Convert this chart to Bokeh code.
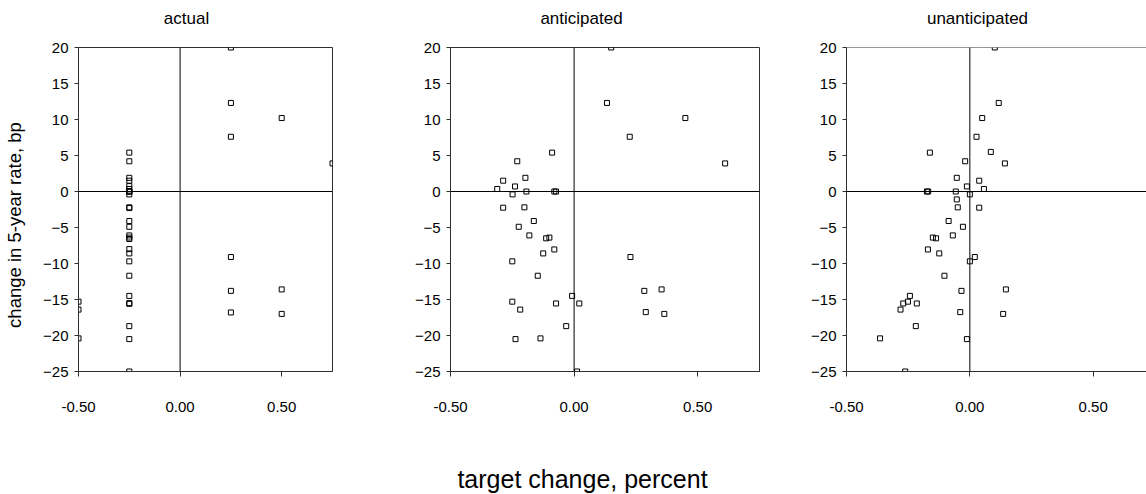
import math
from bokeh.plotting import figure
from bokeh.layouts import row, column
from bokeh.models import Range1d, FixedTicker, NumeralTickFormatter, Span, Label
from bokeh.embed import file_html
from bokeh.resources import INLINE

FONT = "Liberation Sans"

panel_titles = ["actual", "anticipated", "unanticipated"]
x_ticks = [-0.5, 0.0, 0.5]
y_ticks = [-25, -20, -15, -10, -5, 0, 5, 10, 15, 20]
y_label = "change in 5-year rate, bp"
x_label = "target change, percent"

actual_x = [0.25, 0.25, 0.25, 0.25, 0.25, 0.25,
            0.5, 0.5, 0.5,
            0.75,
            -0.5, -0.5, -0.5,
            -0.25, -0.25, -0.25, -0.25, -0.25, -0.25, -0.25, -0.25, -0.25,
            -0.25, -0.25, -0.25, -0.25, -0.25, -0.25, -0.25, -0.25, -0.25,
            -0.25, -0.25, -0.25, -0.25, -0.25, -0.25, -0.25, -0.25, -0.25]
actual_y = [20.0, 12.3, 7.6, -9.1, -13.8, -16.8,
            10.2, -13.6, -17.0,
            3.9,
            -15.3, -16.4, -20.4,
            5.4, 4.2, 1.9, 1.5, 0.75, 0.35, 0.0, 0.0, 0.0,
            -0.4, -2.2, -2.3, -4.1, -4.9, -6.1, -6.4, -6.6, -8.0,
            -8.6, -9.7, -11.7, -14.5, -15.5, -15.6, -18.7, -20.5, -25.0]

anticipated_x = [0.150, 0.133, 0.225, 0.450, 0.611, -0.089, -0.230, -0.197, -0.287, -0.239,
                 -0.311, -0.193, -0.080, -0.073, -0.249, -0.201, -0.287, -0.163, -0.224, -0.181,
                 -0.100, -0.113, -0.080, -0.125, -0.250, 0.228, -0.147, 0.284, 0.354, 0.290,
                 0.365, -0.008, -0.073, 0.021, -0.250, -0.218, -0.032, -0.237, -0.136, 0.012]
anticipated_y = [20.0, 12.3, 7.6, 10.2, 3.9, 5.4, 4.2, 1.9, 1.5, 0.7,
                 0.35, 0.0, 0.0, 0.0, -0.4, -2.2, -2.25, -4.1, -4.9, -6.1,
                 -6.4, -6.5, -8.05, -8.6, -9.7, -9.1, -11.7, -13.8, -13.6, -16.75,
                 -17.0, -14.5, -15.55, -15.55, -15.3, -16.4, -18.7, -20.5, -20.4, -25.0]

unanticipated_x = [0.101, 0.117, 0.027, 0.050, 0.142, -0.162, 0.085, -0.019, -0.053, 0.038,
                   -0.012, 0.057, -0.057, -0.174, -0.169, 0.0, -0.053, -0.049, 0.038, -0.086,
                   -0.028, -0.069, -0.150, -0.137, -0.170, -0.124, 0.0, 0.020, -0.103, -0.034,
                   0.146, -0.039, 0.135, -0.243, -0.251, -0.270, -0.215, -0.281, -0.219, -0.364,
                   -0.012, -0.262]
unanticipated_y = [20.0, 12.3, 7.6, 10.2, 3.9, 5.4, 5.5, 4.2, 1.9, 1.5,
                   0.7, 0.35, 0.0, 0.0, 0.0, -0.4, -1.1, -2.2, -2.25, -4.1,
                   -4.9, -6.1, -6.4, -6.5, -8.05, -8.6, -9.7, -9.1, -11.7, -13.8,
                   -13.6, -16.75, -17.0, -14.5, -15.3, -15.55, -15.55, -16.4, -18.7, -20.4,
                   -20.5, -25.0]

W = 1146
TOP_H = 34
H = 396
TOTAL_H = 494
YLAB_W = 30
title_centers = [186, 581, 977]


def strip(width, height):
    s = figure(width=width, height=height, x_range=Range1d(0, width), y_range=Range1d(0, height),
               output_backend="svg", toolbar_location=None, x_axis_location=None,
               y_axis_location=None, min_border=0, title=None)
    s.outline_line_color = None
    s.grid.visible = False
    return s


def make_panel(xs, ys, width, bl, br, x_end, outline=True):
    p = figure(width=width, height=H, x_range=Range1d(-0.5, x_end), y_range=Range1d(-25, 20),
               output_backend="svg", toolbar_location=None, title=None,
               min_border_left=bl, min_border_right=br, min_border_top=13, min_border_bottom=59)
    p.grid.visible = False
    p.background_fill_color = "white"
    p.border_fill_color = "white"
    if outline:
        p.outline_line_color = "#303030"
        p.outline_line_width = 1
        p.outline_line_alpha = 1
    else:
        p.outline_line_color = None
        p.add_layout(Span(location=20, dimension="width", line_color="#303030", line_width=1))

    xa = p.xaxis[0]
    xa.ticker = FixedTicker(ticks=x_ticks)
    xa.formatter = NumeralTickFormatter(format="0.00")
    xa.major_tick_out = 5
    xa.major_tick_in = 0
    xa.minor_tick_line_color = None
    xa.major_label_standoff = 25
    xa.axis_line_color = "#303030"
    xa.major_tick_line_color = "#303030"
    xa.major_label_text_font = FONT
    xa.major_label_text_font_size = "15px"
    xa.major_label_text_color = "black"

    ya = p.yaxis[0]
    ya.ticker = FixedTicker(ticks=y_ticks)
    ya.major_tick_out = 4
    ya.major_tick_in = 0
    ya.minor_tick_line_color = None
    ya.major_label_standoff = 6
    ya.axis_line_color = "#303030"
    ya.major_tick_line_color = "#303030"
    ya.major_label_text_font = FONT
    ya.major_label_text_font_size = "15px"
    ya.major_label_text_color = "black"

    p.add_layout(Span(location=0, dimension="width", line_color="black", line_width=1))
    p.add_layout(Span(location=0, dimension="height", line_color="black", line_width=1))

    p.scatter(xs, ys, marker="square", size=5, line_color="black", line_width=1,
              fill_color=None)
    return p


# titles strip
top = strip(W, TOP_H)
for t, cx in zip(panel_titles, title_centers):
    top.add_layout(Label(x=cx, y=TOP_H - 17.5, text=t, text_align="center",
                         text_baseline="middle", text_font=FONT, text_font_size="17px",
                         text_color="black"))

# y-axis title strip
ylab = strip(YLAB_W, H)
ylab.add_layout(Label(x=14, y=H - (251 - TOP_H), text=y_label, angle=math.pi / 2,
                      text_align="center", text_baseline="middle", text_font=FONT,
                      text_font_size="18.5px", text_color="black"))

p1 = make_panel(actual_x, actual_y, 350, 48, 48, 0.75)
p2 = make_panel(anticipated_x, anticipated_y, 395, 70, 16, 0.75)
p3 = make_panel(unanticipated_x, unanticipated_y, 371, 71, 0, 0.716, outline=False)

lab_h = TOTAL_H - TOP_H - H
lab = strip(W, lab_h)
lab.add_layout(Label(x=582, y=lab_h - (478 - TOP_H - H), text=x_label, text_align="center",
                     text_baseline="middle", text_font=FONT, text_font_size="25px",
                     text_color="black"))

layout = column(top, row(ylab, p1, p2, p3), lab)

open("out.html", "w").write(file_html(layout, INLINE))
